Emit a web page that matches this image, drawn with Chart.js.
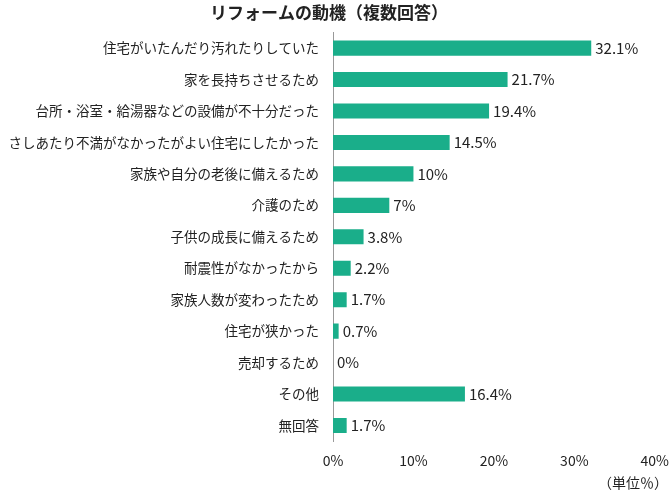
<!DOCTYPE html>
<html>
<head>
<meta charset="utf-8">
<script src="https://cdn.jsdelivr.net/npm/chart.js@4"></script>
<style>
  body { margin: 0; background: #fff; }
  #wrap { width: 672px; height: 494px; position: relative; }
</style>
</head>
<body>
<div id="wrap"><canvas id="chart"></canvas></div>
<script>
const categories = [
  "住宅がいたんだり汚れたりしていた",
  "家を長持ちさせるため",
  "台所・浴室・給湯器などの設備が不十分だった",
  "さしあたり不満がなかったがよい住宅にしたかった",
  "家族や自分の老後に備えるため",
  "介護のため",
  "子供の成長に備えるため",
  "耐震性がなかったから",
  "家族人数が変わったため",
  "住宅が狭かった",
  "売却するため",
  "その他",
  "無回答"
];
const values = [32.1, 21.7, 19.4, 14.5, 10, 7, 3.8, 2.2, 1.7, 0.7, 0, 16.4, 1.7];
const xTicks = [0, 10, 20, 30, 40];

const font = "'Noto Sans CJK JP', 'Noto Sans', sans-serif";

// draw value labels at bar ends and the unit note
const valueLabels = {
  id: "valueLabels",
  afterDatasetsDraw(chart) {
    const ctx = chart.ctx;
    const meta = chart.getDatasetMeta(0);
    ctx.save();
    ctx.font = "15px " + font;
    ctx.fillStyle = "#222";
    ctx.textBaseline = "middle";
    meta.data.forEach((bar, i) => {
      ctx.fillText(values[i] + "%", bar.x + 4, bar.y);
    });
    ctx.font = "14px " + font;
    ctx.textAlign = "right";
    ctx.fillText("（単位％）", 668, 483);
    ctx.restore();
  }
};

new Chart(document.getElementById("chart"), {
  type: "bar",
  data: {
    labels: categories,
    datasets: [{
      data: values,
      backgroundColor: "#1aae8a",
      barPercentage: 0.48,
      categoryPercentage: 1
    }]
  },
  options: {
    indexAxis: "y",
    responsive: true,
    maintainAspectRatio: false,
    animation: false,
    layout: { padding: { top: 0, right: 16, bottom: 22, left: 2 } },
    plugins: {
      legend: { display: false },
      tooltip: { enabled: false },
      title: {
        display: true,
        text: "リフォームの動機（複数回答）",
        color: "#222",
        font: { family: font, size: 17, weight: "bold" },
        padding: { top: 2, bottom: 10 }
      }
    },
    scales: {
      x: {
        min: 0, max: 40,
        afterBuildTicks(axis) { axis.ticks = xTicks.map(v => ({ value: v })); },
        grid: { display: false },
        border: { display: false },
        ticks: {
          color: "#222",
          font: { family: font, size: 14 },
          callback: v => v + "%"
        }
      },
      y: {
        afterFit(axis) { axis.width = 331; },
        grid: { display: false },
        border: { color: "#999" },
        ticks: { color: "#222", font: { family: font, size: 13.5 }, padding: 6 }
      }
    }
  },
  plugins: [valueLabels]
});
</script>
</body>
</html>
